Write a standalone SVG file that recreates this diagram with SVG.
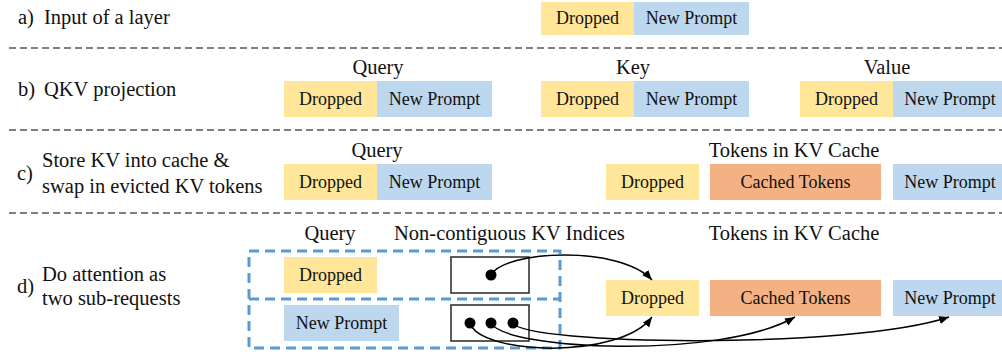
<svg xmlns="http://www.w3.org/2000/svg" width="1002" height="356" viewBox="0 0 1002 356">
<style>
text{font-family:"Liberation Serif","Times New Roman",serif;fill:#111}
.lbl{font-size:20.5px}
.bt{font-size:18px;text-anchor:middle}
.mid{text-anchor:middle}
.y{fill:#FFE699}
.b{fill:#BDD7EE}
.o{fill:#F4B183}
.sep{stroke:#555;stroke-width:1.3;stroke-dasharray:7 4;fill:none}
.idx{fill:#fff;stroke:#333;stroke-width:1.6}
.grp{fill:none;stroke:#5B9BD5;stroke-width:3;stroke-dasharray:10 6}
.con{fill:none;stroke:#000;stroke-width:1.5;marker-end:url(#ah)}
</style>
<defs>
<marker id="ah" markerUnits="userSpaceOnUse" markerWidth="11" markerHeight="9" refX="10" refY="4" orient="auto">
<path d="M0,0 L10,4 L0,8 z" fill="#000"/>
</marker>
</defs>
<rect width="1002" height="356" fill="#fff"/>
<g id="separators">
<line class="sep" x1="9" y1="48" x2="1002" y2="48"/>
<line class="sep" x1="9" y1="130" x2="1002" y2="130"/>
<line class="sep" x1="9" y1="213" x2="1002" y2="213"/>
</g>
<g id="row-a">
<text class="lbl" x="18" y="24">a)</text>
<text class="lbl" x="44" y="24">Input of a layer</text>
<g id="a-dropped"><rect class="y" x="541" y="2" width="93" height="33"/><text class="bt" x="587.5" y="24">Dropped</text></g>
<g id="a-new"><rect class="b" x="634" y="2" width="115" height="33"/><text class="bt" x="691.5" y="24">New Prompt</text></g>
</g>
<g id="row-b">
<text class="lbl" x="18" y="96">b)</text>
<text class="lbl" x="44" y="96">QKV projection</text>
<text class="lbl mid" x="378" y="74">Query</text>
<text class="lbl mid" x="633" y="74">Key</text>
<text class="lbl mid" x="887" y="74">Value</text>
<g id="b-q-dropped"><rect class="y" x="284" y="81" width="93" height="36"/><text class="bt" x="330.5" y="105">Dropped</text></g>
<g id="b-q-new"><rect class="b" x="377" y="81" width="115" height="36"/><text class="bt" x="434.5" y="105">New Prompt</text></g>
<g id="b-k-dropped"><rect class="y" x="541" y="81" width="93" height="36"/><text class="bt" x="587.5" y="105">Dropped</text></g>
<g id="b-k-new"><rect class="b" x="634" y="81" width="115" height="36"/><text class="bt" x="691.5" y="105">New Prompt</text></g>
<g id="b-v-dropped"><rect class="y" x="800" y="81" width="93" height="36"/><text class="bt" x="846.5" y="105">Dropped</text></g>
<g id="b-v-new"><rect class="b" x="893" y="81" width="115" height="36"/><text class="bt" x="950" y="105">New Prompt</text></g>
</g>
<g id="row-c">
<text class="lbl" x="17" y="180">c)</text>
<text class="lbl" x="42" y="167">Store KV into cache &amp;</text>
<text class="lbl" x="42" y="193">swap in evicted KV tokens</text>
<text class="lbl mid" x="377" y="157">Query</text>
<text class="lbl mid" x="794" y="157">Tokens in KV Cache</text>
<g id="c-q-dropped"><rect class="y" x="284" y="164" width="93" height="36"/><text class="bt" x="330.5" y="188">Dropped</text></g>
<g id="c-q-new"><rect class="b" x="377" y="164" width="115" height="36"/><text class="bt" x="434.5" y="188">New Prompt</text></g>
<g id="c-kv-dropped"><rect class="y" x="606" y="164" width="93" height="36"/><text class="bt" x="652.5" y="188">Dropped</text></g>
<g id="c-kv-cached"><rect class="o" x="710" y="164" width="171" height="36"/><text class="bt" x="795.5" y="188">Cached Tokens</text></g>
<g id="c-kv-new"><rect class="b" x="893" y="164" width="115" height="36"/><text class="bt" x="950" y="188">New Prompt</text></g>
</g>
<g id="row-d">
<text class="lbl" x="17" y="293">d)</text>
<text class="lbl" x="42" y="281">Do attention as</text>
<text class="lbl" x="42" y="305">two sub-requests</text>
<text class="lbl mid" x="330" y="240">Query</text>
<text class="lbl" x="394" y="240">Non-contiguous KV Indices</text>
<text class="lbl mid" x="794" y="240">Tokens in KV Cache</text>
<g id="d-group-box">
<rect class="grp" x="249" y="251" width="311" height="97"/>
<line class="grp" x1="249" y1="299" x2="560" y2="299"/>
</g>
<g id="d-q-dropped"><rect class="y" x="284" y="257" width="93" height="36"/><text class="bt" x="330.5" y="281">Dropped</text></g>
<g id="d-q-new"><rect class="b" x="284" y="305" width="115" height="36"/><text class="bt" x="341.5" y="329">New Prompt</text></g>
<g id="d-idx-1"><rect class="idx" x="451" y="257" width="78" height="36"/><circle cx="491" cy="275" r="5.5" fill="#000"/></g>
<g id="d-idx-2"><rect class="idx" x="451" y="305" width="78" height="36"/><circle cx="470" cy="323" r="5.5" fill="#000"/><circle cx="491" cy="323" r="5.5" fill="#000"/><circle cx="513" cy="323" r="5.5" fill="#000"/></g>
<g id="d-kv-dropped"><rect class="y" x="606" y="280" width="93" height="36"/><text class="bt" x="652.5" y="304">Dropped</text></g>
<g id="d-kv-cached"><rect class="o" x="710" y="280" width="171" height="36"/><text class="bt" x="795.5" y="304">Cached Tokens</text></g>
<g id="d-kv-new"><rect class="b" x="893" y="280" width="115" height="36"/><text class="bt" x="950" y="304">New Prompt</text></g>
</g>
<g id="connectors">
<path class="con" d="M491,275 C505,250 620,245 652,280"/>
<path class="con" d="M470,323 C480,355 620,360 652,317"/>
<path class="con" d="M491,323 C505,350 720,360 795,317"/>
<path class="con" d="M513,323 C525,345 850,350 949,317"/>
</g>
</svg>
